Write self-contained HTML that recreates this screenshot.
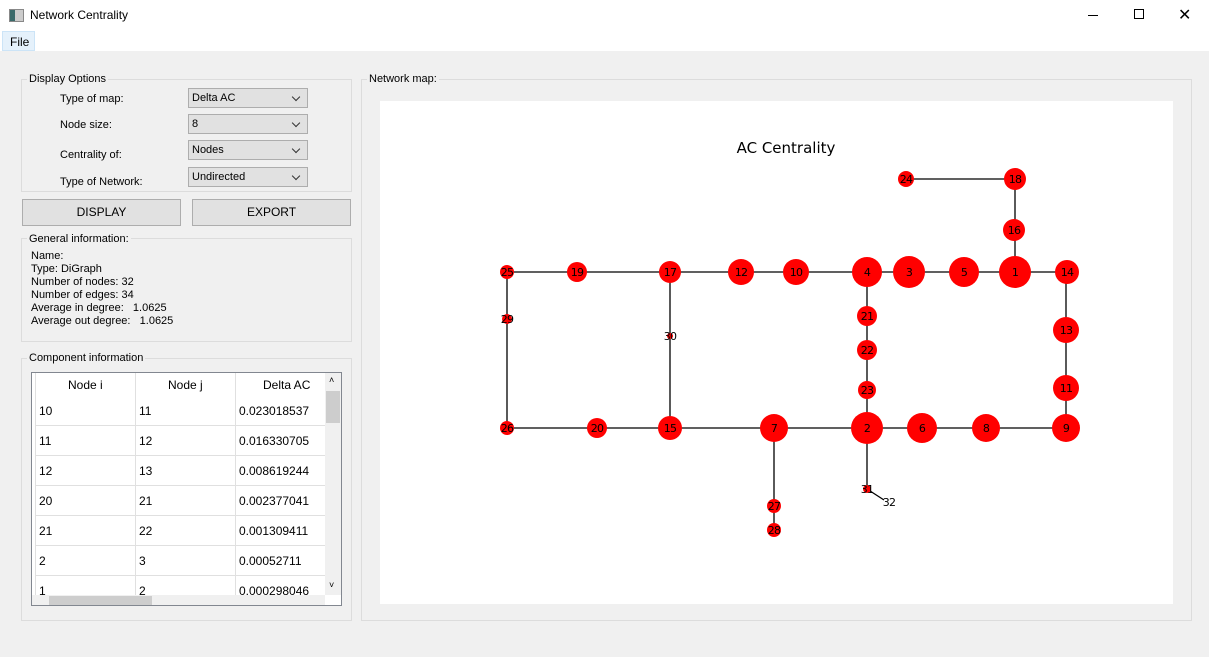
<!DOCTYPE html><html><head><style>
*{margin:0;padding:0;box-sizing:border-box}
body{width:1209px;height:657px;background:#f0f0f0;font-family:"Liberation Sans",sans-serif;font-size:11px;color:#000;position:relative;overflow:hidden}
.a{position:absolute}
.grp{position:absolute;border:1px solid #dcdcdc}
.lg{position:absolute;background:#f0f0f0;padding:0 2px;font-size:11px}
.cb{position:absolute;left:188px;width:120px;height:20px;border:1px solid #adadad;background:#e1e1e1;padding:3px 3px;font-size:11px}
.cb:after{content:"";position:absolute;right:8px;top:5px;width:5px;height:5px;border-right:1px solid #333;border-bottom:1px solid #333;transform:rotate(45deg)}
.btn{position:absolute;top:199px;height:27px;border:1px solid #adadad;background:#e1e1e1;text-align:center;line-height:25px;font-size:12px}
.row{position:absolute;left:36px;width:289px;height:30px;background:#fff;border-bottom:1px solid #e0e0e0;font-size:12px}
.row span{position:absolute;top:8px}
</style></head><body>
<div class="a" style="left:0;top:0;width:1209px;height:51px;background:#fff"></div>
<div class="a" style="left:9px;top:9px;width:15px;height:13px;border:1px solid #888;background:linear-gradient(90deg,#3a6a6a 40%,#ccc 40%)"></div>
<div class="a" style="left:30px;top:8px;font-size:12px">Network Centrality</div>
<div class="a" style="left:1088px;top:15px;width:10px;height:1px;background:#000"></div>
<div class="a" style="left:1134px;top:9px;width:10px;height:10px;border:1px solid #000"></div>
<div class="a" style="left:1178px;top:5px;font-size:16px">✕</div>
<div class="a" style="left:2px;top:31px;width:33px;height:20px;background:#e5f1fb;border:1px solid #cce4f7;padding:3px 0 0 7px;font-size:12px">File</div>

<div class="grp" style="left:21px;top:79px;width:331px;height:113px"></div>
<div class="lg" style="left:27px;top:73px">Display Options</div>
<div class="a" style="left:60px;top:93px">Type of map:</div>
<div class="a" style="left:60px;top:119px">Node size:</div>
<div class="a" style="left:60px;top:149px">Centrality of:</div>
<div class="a" style="left:60px;top:176px">Type of Network:</div>
<div class="cb" style="top:88px">Delta AC</div>
<div class="cb" style="top:114px">8</div>
<div class="cb" style="top:140px">Nodes</div>
<div class="cb" style="top:167px">Undirected</div>
<div class="btn" style="left:22px;width:159px">DISPLAY</div>
<div class="btn" style="left:192px;width:159px">EXPORT</div>

<div class="grp" style="left:21px;top:238px;width:331px;height:104px"></div>
<div class="lg" style="left:27px;top:233px">General information:</div>
<div class="a" style="left:31px;top:250px;line-height:13px">Name:<br>Type: DiGraph<br>Number of nodes: 32<br>Number of edges: 34<br>Average in degree: &nbsp;&nbsp;1.0625<br>Average out degree: &nbsp;&nbsp;1.0625</div>

<div class="grp" style="left:21px;top:358px;width:331px;height:263px"></div>
<div class="lg" style="left:27px;top:352px">Component information</div>
<div class="a" style="left:31px;top:372px;width:311px;height:234px;border:1px solid #828790;background:#fff"></div>
<div class="a" style="left:36px;top:373px;width:289px;height:24px;background:#fff"></div>
<div class="a" style="left:68px;top:378px;font-size:12px">Node i</div>
<div class="a" style="left:168px;top:378px;font-size:12px">Node j</div>
<div class="a" style="left:263px;top:378px;font-size:12px">Delta AC</div>
<div class="row" style="top:396px"><span style="left:3px">10</span><span style="left:103px">11</span><span style="left:203px">0.023018537</span></div>
<div class="row" style="top:426px"><span style="left:3px">11</span><span style="left:103px">12</span><span style="left:203px">0.016330705</span></div>
<div class="row" style="top:456px"><span style="left:3px">12</span><span style="left:103px">13</span><span style="left:203px">0.008619244</span></div>
<div class="row" style="top:486px"><span style="left:3px">20</span><span style="left:103px">21</span><span style="left:203px">0.002377041</span></div>
<div class="row" style="top:516px"><span style="left:3px">21</span><span style="left:103px">22</span><span style="left:203px">0.001309411</span></div>
<div class="row" style="top:546px"><span style="left:3px">2</span><span style="left:103px">3</span><span style="left:203px">0.00052711</span></div>
<div class="row" style="top:576px;height:19px;border:0;overflow:hidden"><span style="left:3px">1</span><span style="left:103px">2</span><span style="left:203px">0.000298046</span></div>
<div class="a" style="left:135px;top:373px;width:1px;height:222px;background:#e0e0e0"></div>
<div class="a" style="left:235px;top:373px;width:1px;height:222px;background:#e0e0e0"></div>
<div class="a" style="left:35px;top:373px;width:1px;height:222px;background:#e0e0e0"></div>
<div class="a" style="left:325px;top:373px;width:16px;height:222px;background:#f0f0f0"></div>
<div class="a" style="left:326px;top:391px;width:14px;height:32px;background:#cdcdcd"></div>
<div class="a" style="left:329px;top:375px;font-size:9px">˄</div>
<div class="a" style="left:329px;top:580px;font-size:9px">˅</div>
<div class="a" style="left:32px;top:595px;width:293px;height:10px;background:#f0f0f0"></div>
<div class="a" style="left:49px;top:596px;width:103px;height:9px;background:#cdcdcd"></div>

<div class="grp" style="left:361px;top:79px;width:831px;height:542px"></div>
<div class="lg" style="left:367px;top:73px">Network map:</div>
<div class="a" style="left:380px;top:101px;width:793px;height:503px;background:#fff"></div>
<svg class="a" style="left:0;top:0" width="1209" height="657" font-family="DejaVu Sans,sans-serif">
<text x="786" y="153" font-size="15" text-anchor="middle">AC Centrality</text>
<g stroke="#000" stroke-width="1.3" fill="none">
<line x1="906" y1="179" x2="1015" y2="179"/><line x1="1015" y1="179" x2="1015" y2="272"/>
<line x1="507" y1="272" x2="1067" y2="272"/>
<line x1="507" y1="272" x2="507" y2="428"/><line x1="670" y1="272" x2="670" y2="428"/>
<line x1="867" y1="272" x2="867" y2="489"/><line x1="1066" y1="272" x2="1066" y2="428"/>
<line x1="507" y1="428" x2="1066" y2="428"/>
<line x1="774" y1="428" x2="774" y2="530"/><line x1="867" y1="489" x2="884" y2="500"/>
</g>
<g fill="#ff0000">
<circle cx="906" cy="179" r="8"/><circle cx="1015" cy="179" r="11"/><circle cx="1014" cy="230" r="11"/>
<circle cx="507" cy="272" r="7"/><circle cx="577" cy="272" r="10"/><circle cx="670" cy="272" r="11"/>
<circle cx="741" cy="272" r="13"/><circle cx="796" cy="272" r="13"/><circle cx="867" cy="272" r="15"/>
<circle cx="909" cy="272" r="16"/><circle cx="964" cy="272" r="15"/><circle cx="1015" cy="272" r="16"/>
<circle cx="1067" cy="272" r="12"/><circle cx="507" cy="319" r="5"/><circle cx="670" cy="336" r="3"/>
<circle cx="867" cy="316" r="10"/><circle cx="867" cy="350" r="10"/><circle cx="867" cy="390" r="9"/>
<circle cx="1066" cy="330" r="13"/><circle cx="1066" cy="388" r="13"/>
<circle cx="507" cy="428" r="7"/><circle cx="597" cy="428" r="10"/><circle cx="670" cy="428" r="12"/>
<circle cx="774" cy="428" r="14"/><circle cx="867" cy="428" r="16"/><circle cx="922" cy="428" r="15"/>
<circle cx="986" cy="428" r="14"/><circle cx="1066" cy="428" r="14"/>
<circle cx="867" cy="489" r="4"/><circle cx="774" cy="506" r="7"/><circle cx="774" cy="530" r="7"/>
</g>
<g font-size="11" text-anchor="middle" fill="#000" letter-spacing="-0.8">
<text x="906" y="183">24</text><text x="1015" y="183">18</text><text x="1014" y="234">16</text>
<text x="507" y="276">25</text><text x="577" y="276">19</text><text x="670" y="276">17</text>
<text x="741" y="276">12</text><text x="796" y="276">10</text><text x="867" y="276">4</text>
<text x="909" y="276">3</text><text x="964" y="276">5</text><text x="1015" y="276">1</text>
<text x="1067" y="276">14</text><text x="507" y="323">29</text><text x="670" y="340">30</text>
<text x="867" y="320">21</text><text x="867" y="354">22</text><text x="867" y="394">23</text>
<text x="1066" y="334">13</text><text x="1066" y="392">11</text>
<text x="507" y="432">26</text><text x="597" y="432">20</text><text x="670" y="432">15</text>
<text x="774" y="432">7</text><text x="867" y="432">2</text><text x="922" y="432">6</text>
<text x="986" y="432">8</text><text x="1066" y="432">9</text>
<text x="867" y="493">31</text><text x="889" y="506">32</text>
<text x="774" y="510">27</text><text x="774" y="534">28</text>
</g>
</svg>
</body></html>
